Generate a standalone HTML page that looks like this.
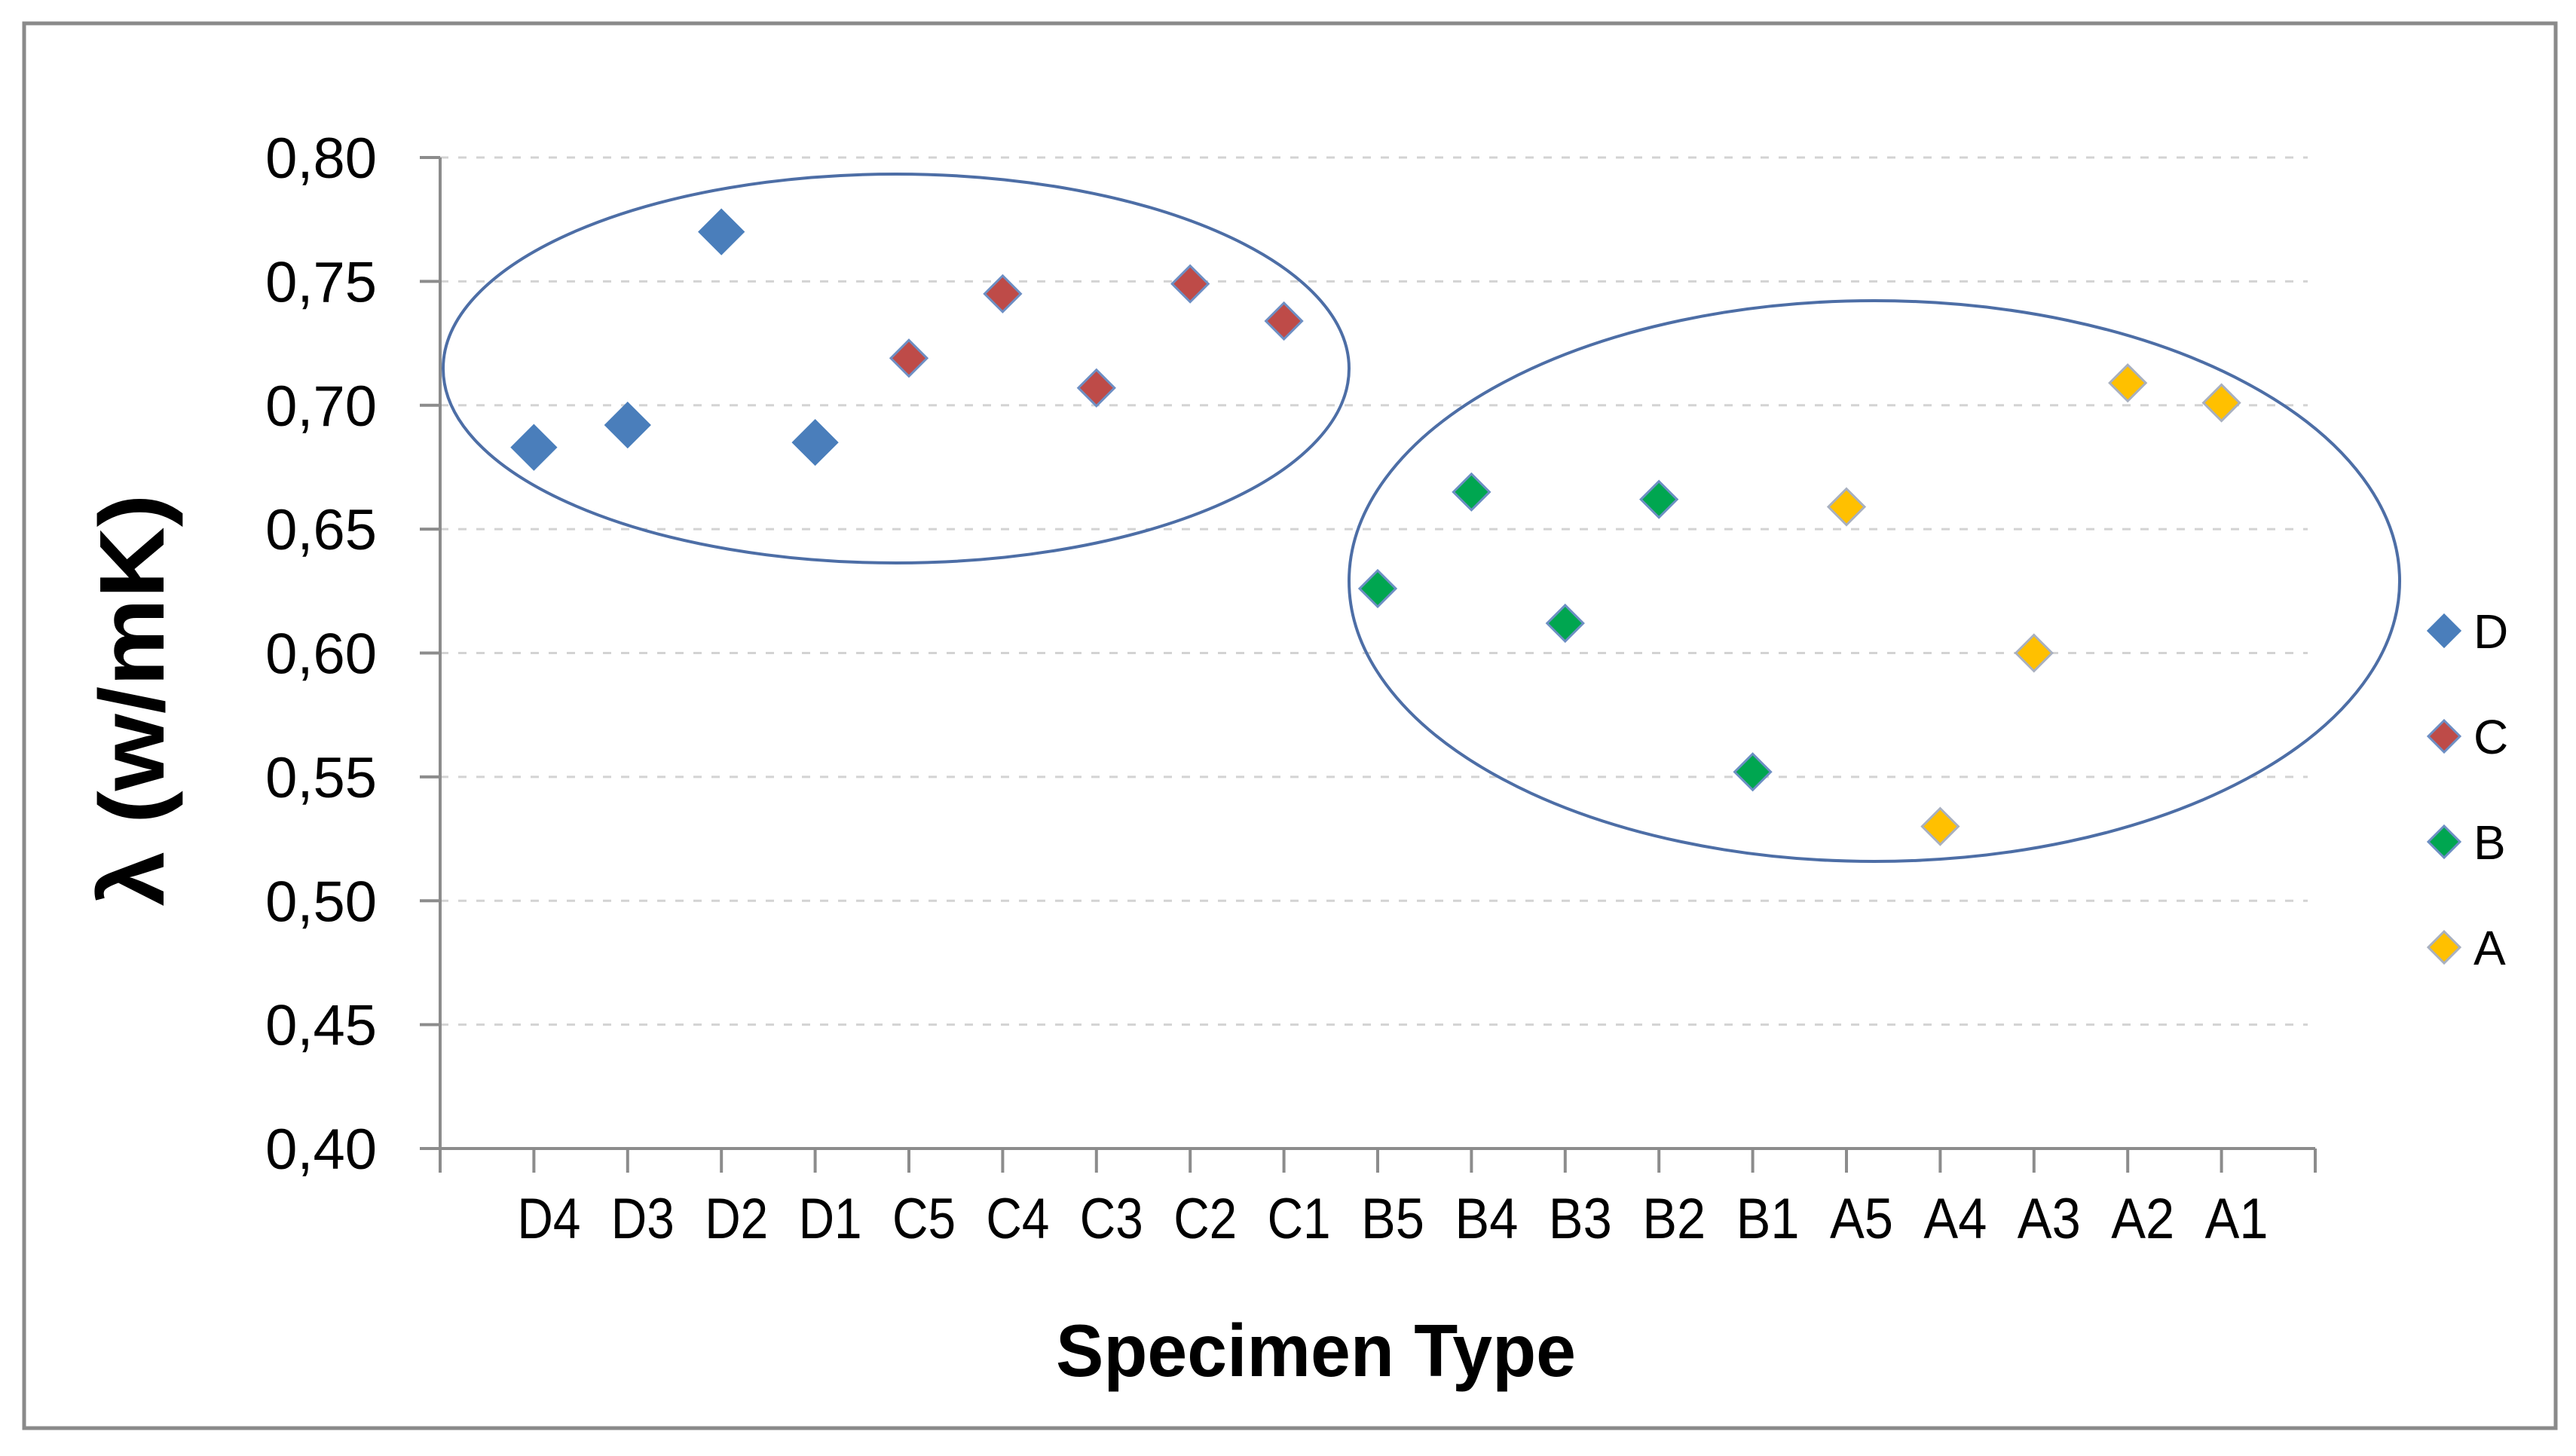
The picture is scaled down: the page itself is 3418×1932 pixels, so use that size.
<!DOCTYPE html>
<html><head><meta charset="utf-8"><style>
html,body{margin:0;padding:0;background:#fff;}
svg{display:block;font-family:"Liberation Sans",sans-serif;}
</style></head><body>
<svg id="chart" width="3418" height="1932" viewBox="0 0 3418 1932" xmlns="http://www.w3.org/2000/svg">
<rect x="0" y="0" width="3418" height="1932" fill="#fff"/>
<rect x="32" y="31" width="3359" height="1864" fill="#fff" stroke="#8a8a8a" stroke-width="5"/>
<g id="grid"></g>
<g id="axes"></g>
<ellipse cx="1189" cy="489" rx="601" ry="258" fill="none" stroke="#4d6ea6" stroke-width="4"/>
<ellipse cx="2487" cy="771" rx="697" ry="372" fill="none" stroke="#4d6ea6" stroke-width="4"/>
<g id="marks"></g>
<g id="legend"></g>
<text x="175" y="929" transform="rotate(-90 175 929)" text-anchor="middle" dominant-baseline="central" font-size="122" font-weight="bold" textLength="547" lengthAdjust="spacingAndGlyphs" fill="#000">λ (w/mK)</text>
<text x="1746" y="1826" text-anchor="middle" font-size="98" font-weight="bold" textLength="690" lengthAdjust="spacingAndGlyphs" fill="#000">Specimen Type</text>
</svg>
<script>
const categories = ["D4","D3","D2","D1","C5","C4","C3","C2","C1","B5","B4","B3","B2","B1","A5","A4","A3","A2","A1"];
const groups = ["D","D","D","D","C","C","C","C","C","B","B","B","B","B","A","A","A","A","A"];
const values = [0.683,0.692,0.770,0.685,0.719,0.745,0.707,0.749,0.734,0.626,0.665,0.612,0.662,0.552,0.659,0.530,0.600,0.709,0.701];
const yTicks = [0.40,0.45,0.50,0.55,0.60,0.65,0.70,0.75,0.80];
const yTickLabels = ["0,40","0,45","0,50","0,55","0,60","0,65","0,70","0,75","0,80"];
const legendSeries = ["D","C","B","A"];

const NS="http://www.w3.org/2000/svg";
const X0=584, X1=3072, Y0=1524, Y1=209;
const xScale = i => X0 + (X1-X0)*i/20;
const yScale = v => Y0 - (v-0.40)/(0.80-0.40)*(Y0-Y1);
const colors = {D:["#4a7ebb","#4a7ebb"],C:["#be4b48","#6d8fc4"],B:["#00a650","#6d8fc4"],A:["#ffc000","#a8b0c0"]};
const sizes = {D:29,C:24,B:24,A:24};
function mk(tag, attrs, parent){const e=document.createElementNS(NS,tag);for(const k in attrs)e.setAttribute(k,attrs[k]);parent.appendChild(e);return e;}
const grid=document.getElementById('grid'), axes=document.getElementById('axes'), marks=document.getElementById('marks'), legend=document.getElementById('legend');

yTicks.forEach((t,i)=>{
  const y=yScale(t);
  if(i>0){
    const g=mk('line',{x1:X0,x2:3062,y1:y,y2:y,stroke:'#d3d3d3','stroke-width':3,'stroke-dasharray':'11 13'},grid);
    
    
  }
  const tk=mk('line',{x1:557,x2:X0,y1:y,y2:y,stroke:'#8c8c8c','stroke-width':4},axes);
  
  
  const tx=mk('text',{x:500,y:y+27,'text-anchor':'end','font-size':76,fill:'#000'},axes);
  tx.textContent=yTickLabels[i];
  
  
});
const ya=mk('line',{x1:X0,x2:X0,y1:Y1,y2:Y0,stroke:'#8c8c8c','stroke-width':4},axes);


const xa=mk('line',{x1:X0,x2:X1,y1:Y0,y2:Y0,stroke:'#8c8c8c','stroke-width':4},axes);


for(let i=0;i<=20;i++){
  const tk=mk('line',{x1:xScale(i),x2:xScale(i),y1:Y0,y2:1556,stroke:'#8c8c8c','stroke-width':4},axes);
  
  
}
categories.forEach((c,i)=>{
  const tx=mk('text',{x:xScale(i+1)+20,y:1643,'text-anchor':'middle','font-size':76,textLength:84,lengthAdjust:'spacingAndGlyphs',fill:'#000'},axes);
  tx.textContent=c;
  
  
});
function diamond(cx,cy,r,g,parent){
  const p=mk('polygon',{points:`${cx},${cy-r} ${cx+r},${cy} ${cx},${cy+r} ${cx-r},${cy}`,fill:colors[g][0],stroke:colors[g][1],'stroke-width':3},parent);
  return p;
}
values.forEach((v,i)=>{
  const g=groups[i];
  const p=diamond(xScale(i+1),yScale(v),sizes[g],g,marks);
  
  
});
legendSeries.forEach((s,i)=>{
  const y=837+i*140;
  const p=diamond(3243,y,21,s,legend);
  
  
  const t=mk('text',{x:3282,y:y+23,'font-size':64,fill:'#000'},legend);
  t.textContent=s;
  
  
});
</script>
</body></html>
